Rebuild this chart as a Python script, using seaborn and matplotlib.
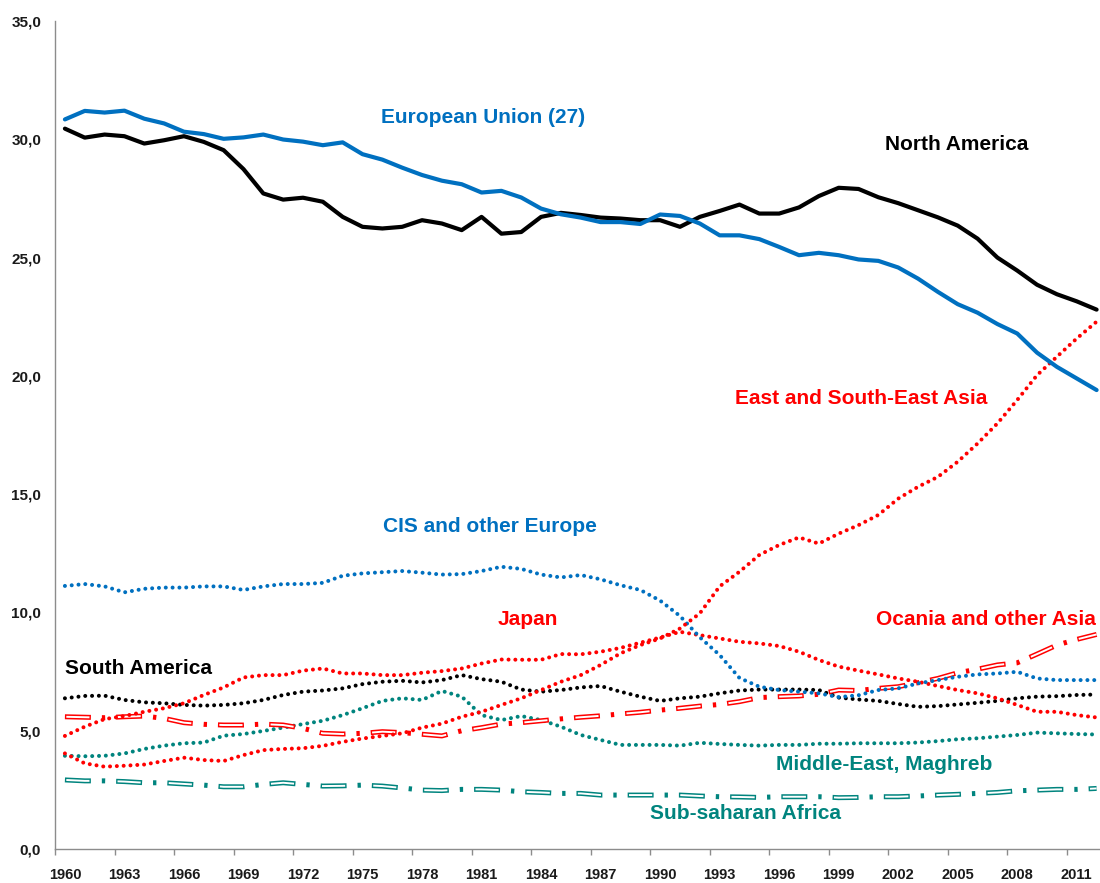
"""Share of world production by region, 1960-2012 (line chart with in-plot labels)."""

import matplotlib

matplotlib.use("Agg")

import matplotlib.pyplot as plt
import pandas as pd
import seaborn as sns
from matplotlib.ticker import FuncFormatter

years = list(range(1960, 2013))

european_union = [
    30.84, 31.20, 31.13, 31.21, 30.87, 30.67, 30.32, 30.22, 30.02, 30.08,
    30.20, 29.99, 29.90, 29.75, 29.87, 29.37, 29.14, 28.80, 28.49, 28.25,
    28.10, 27.75, 27.82, 27.54, 27.07, 26.83, 26.69, 26.50, 26.50, 26.42,
    26.82, 26.76, 26.44, 25.94, 25.94, 25.78, 25.45, 25.10, 25.20, 25.10,
    24.92, 24.86, 24.58, 24.11, 23.55, 23.03, 22.67, 22.19, 21.79, 20.98,
    20.38, 19.89, 19.40,
]
north_america = [
    30.45, 30.07, 30.20, 30.13, 29.82, 29.96, 30.13, 29.89, 29.54, 28.74,
    27.71, 27.45, 27.53, 27.36, 26.72, 26.30, 26.23, 26.30, 26.58, 26.44,
    26.16, 26.72, 26.01, 26.08, 26.72, 26.89, 26.80, 26.69, 26.65, 26.58,
    26.58, 26.30, 26.72, 26.97, 27.24, 26.86, 26.86, 27.12, 27.60, 27.95,
    27.90, 27.55, 27.30, 27.00, 26.70, 26.35, 25.80, 25.00, 24.45, 23.85,
    23.45, 23.15, 22.80,
]
east_se_asia = [
    4.04, 3.62, 3.48, 3.52, 3.57, 3.72, 3.86, 3.76, 3.72, 3.97,
    4.18, 4.23, 4.26, 4.36, 4.53, 4.67, 4.78, 4.89, 5.13, 5.30,
    5.59, 5.80, 6.09, 6.37, 6.72, 7.07, 7.35, 7.78, 8.27, 8.62,
    8.90, 9.32, 9.96, 11.10, 11.72, 12.43, 12.85, 13.17, 12.91, 13.33,
    13.69, 14.12, 14.81, 15.31, 15.73, 16.37, 17.14, 17.99, 18.98, 20.03,
    20.81, 21.58, 22.29,
]
cis_other_europe = [
    11.12, 11.20, 11.10, 10.85, 11.00, 11.05, 11.05, 11.10, 11.10, 10.95,
    11.10, 11.20, 11.20, 11.25, 11.55, 11.65, 11.70, 11.75, 11.68, 11.60,
    11.62, 11.75, 11.93, 11.84, 11.60, 11.48, 11.58, 11.40, 11.15, 10.95,
    10.50, 9.85, 8.95, 8.20, 7.23, 6.86, 6.72, 6.65, 6.58, 6.42,
    6.50, 6.72, 6.79, 7.00, 7.14, 7.28, 7.38, 7.42, 7.49, 7.21,
    7.14, 7.14, 7.14,
]
japan = [
    4.78, 5.17, 5.49, 5.62, 5.80, 5.95, 6.16, 6.51, 6.83, 7.25,
    7.35, 7.35, 7.54, 7.63, 7.42, 7.42, 7.35, 7.35, 7.45, 7.52,
    7.63, 7.84, 8.01, 8.00, 8.00, 8.24, 8.23, 8.34, 8.50, 8.72,
    8.94, 9.18, 9.04, 8.90, 8.76, 8.69, 8.58, 8.34, 7.99, 7.71,
    7.54, 7.38, 7.21, 7.07, 6.89, 6.72, 6.58, 6.37, 6.09, 5.80,
    5.80, 5.66, 5.56,
]
oceania_other_asia = [
    5.59, 5.57, 5.55, 5.59, 5.62, 5.52, 5.34, 5.27, 5.24, 5.24,
    5.28, 5.24, 5.10, 4.89, 4.86, 4.89, 4.96, 4.92, 4.85, 4.78,
    5.00, 5.13, 5.28, 5.34, 5.42, 5.50, 5.57, 5.63, 5.71, 5.78,
    5.87, 5.95, 6.04, 6.11, 6.23, 6.40, 6.44, 6.47, 6.54, 6.72,
    6.70, 6.79, 6.86, 7.03, 7.21, 7.45, 7.60, 7.78, 7.87, 8.24,
    8.62, 8.86, 9.07,
]
south_america = [
    6.37, 6.47, 6.48, 6.30, 6.20, 6.16, 6.09, 6.06, 6.09, 6.16,
    6.30, 6.51, 6.65, 6.70, 6.79, 6.97, 7.07, 7.11, 7.04, 7.14,
    7.35, 7.18, 7.07, 6.74, 6.65, 6.72, 6.83, 6.89, 6.65, 6.44,
    6.26, 6.37, 6.44, 6.58, 6.70, 6.74, 6.74, 6.74, 6.72, 6.40,
    6.32, 6.26, 6.13, 6.01, 6.04, 6.11, 6.18, 6.26, 6.37, 6.44,
    6.46, 6.51, 6.53,
]
middle_east_maghreb = [
    3.94, 3.92, 3.94, 4.04, 4.23, 4.37, 4.47, 4.50, 4.79, 4.86,
    4.99, 5.13, 5.28, 5.42, 5.66, 5.95, 6.26, 6.37, 6.30, 6.68,
    6.44, 5.66, 5.45, 5.62, 5.45, 5.17, 4.82, 4.61, 4.40, 4.40,
    4.40, 4.37, 4.49, 4.44, 4.40, 4.37, 4.40, 4.40, 4.45, 4.45,
    4.47, 4.47, 4.47, 4.50, 4.56, 4.64, 4.68, 4.75, 4.82, 4.92,
    4.89, 4.86, 4.84,
]
sub_saharan_africa = [
    2.92, 2.88, 2.88, 2.85, 2.80, 2.80, 2.75, 2.70, 2.63, 2.63,
    2.73, 2.80, 2.73, 2.66, 2.67, 2.70, 2.66, 2.58, 2.49, 2.47,
    2.52, 2.52, 2.49, 2.42, 2.39, 2.35, 2.35, 2.28, 2.28, 2.28,
    2.28, 2.28, 2.24, 2.21, 2.20, 2.18, 2.21, 2.21, 2.21, 2.17,
    2.18, 2.21, 2.21, 2.24, 2.28, 2.31, 2.35, 2.39, 2.46, 2.49,
    2.52, 2.52, 2.56,
]

BLUE = "#0070C0"
RED = "#FF0000"
TEAL = "#00847E"
BLACK = "#000000"

sns.set_theme(style="white")
plt.rcParams["font.family"] = ["Liberation Sans", "DejaVu Sans"]
plt.rcParams["lines.scale_dashes"] = False

df = pd.DataFrame({
    "year": years,
    "eu": european_union,
    "na": north_america,
    "esea": east_se_asia,
    "cis": cis_other_europe,
    "japan": japan,
    "oceania": oceania_other_asia,
    "sa": south_america,
    "mem": middle_east_maghreb,
    "ssa": sub_saharan_africa,
})

fig = plt.figure(figsize=(11, 8.83), dpi=100)
ax = fig.add_axes([55 / 1100, 1 - 849 / 883, 1045 / 1100, 828 / 883])

DOTS = (0, (0.01, 4.9))


def solid(col, color):
    sns.lineplot(data=df, x="year", y=col, ax=ax, color=color, lw=3.0,
                 solid_joinstyle="round")


def dotted(col, color):
    sns.lineplot(data=df, x="year", y=col, ax=ax, color=color, lw=2.9,
                 linestyle=DOTS, dash_capstyle="round")


def hollow_dashdot(col, color):
    # outlined dash-dot: coloured dashes with a thin white core
    sns.lineplot(data=df, x="year", y=col, ax=ax, color=color, lw=3.6,
                 linestyle=(0, (18.7, 7.9, 2.4, 7.9)))
    sns.lineplot(data=df, x="year", y=col, ax=ax, color="white", lw=1.4,
                 linestyle=(35.9, (16.7, 20.2)))


hollow_dashdot("ssa", TEAL)
dotted("mem", TEAL)
hollow_dashdot("oceania", RED)
dotted("sa", BLACK)
dotted("japan", RED)
dotted("cis", BLUE)
dotted("esea", RED)
solid("na", BLACK)
solid("eu", BLUE)

# (text, x, y, colour, horizontal alignment)
labels = [
    ("European Union (27)", 1975.93, 30.9, BLUE, "left"),
    ("North America", 2001.33, 29.8, BLACK, "left"),
    ("East and South-East Asia", 1993.77, 19.06, RED, "left"),
    ("CIS and other Europe", 1976.03, 13.65, BLUE, "left"),
    ("Japan", 1981.82, 9.72, RED, "left"),
    ("Ocania and other Asia", 2011.95, 9.68, RED, "right"),
    ("South America", 1960.0, 7.65, BLACK, "left"),
    ("Middle-East, Maghreb", 1995.84, 3.59, TEAL, "left"),
    ("Sub-saharan Africa", 1989.49, 1.48, TEAL, "left"),
]
for text, x, y, color, ha in labels:
    ax.text(x, y, text, color=color, fontsize=15, fontweight="bold",
            ha=ha, va="center")

ax.set_xlim(1959.5, 1959.5 + 1045 / 19.84)
ax.set_ylim(0, 35)
ax.set_yticks(range(0, 36, 5))
ax.yaxis.set_major_formatter(FuncFormatter(lambda v, _: f"{v:.1f}".replace(".", ",")))

tick_years = years[::3]
ax.set_xticks([y - 0.5 for y in tick_years])
ax.set_xticklabels([])
ax.set_xticks(tick_years, minor=True)
ax.set_xticklabels([str(y) for y in tick_years], minor=True)

ax.set_xlabel("")
ax.set_ylabel("")
for side in ("top", "right"):
    ax.spines[side].set_visible(False)
for side in ("left", "bottom"):
    ax.spines[side].set_color("#8c8c8c")
    ax.spines[side].set_linewidth(1.0)

ax.tick_params(axis="y", which="major", direction="out", length=4, width=1,
               color="#8c8c8c", pad=6, labelsize=11, labelcolor="#1a1a1a")
ax.tick_params(axis="x", which="major", direction="out", length=4, width=1,
               color="#8c8c8c", bottom=True)
ax.tick_params(axis="x", which="minor", length=0, pad=14, labelsize=10.5,
               labelcolor="#1a1a1a", bottom=True)
for lab in ax.get_yticklabels() + ax.get_xticklabels(minor=True):
    lab.set_fontweight("bold")

fig.savefig("out.png", dpi=100)
